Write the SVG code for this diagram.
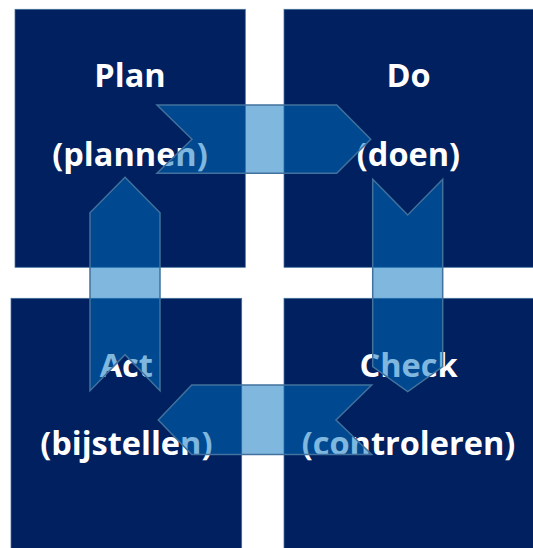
<svg xmlns="http://www.w3.org/2000/svg" width="533" height="548" viewBox="0 0 533 548">
  <style>
    .box { fill: #002060; stroke: #41719C; stroke-width: 0.75; }
    .lbl { font-family: "Open Sans", "DejaVu Sans", sans-serif; font-weight: 700; font-size: 32.5px; fill: #FFFFFF; text-anchor: middle; }
    .arrow { fill: #0070C0; fill-opacity: 0.5; stroke: #41719C; stroke-width: 1.5; stroke-linejoin: miter; }
  </style>
  <rect x="0" y="0" width="533" height="548" fill="#FFFFFF"/>
  <g id="plan">
    <rect class="box" x="15" y="9.3" width="230.3" height="258"/>
    <text class="lbl" x="130" y="86.7">Plan</text>
    <text class="lbl" x="130" y="166">(plannen)</text>
  </g>
  <g id="do">
    <rect class="box" x="284" y="9.3" width="260" height="258"/>
    <text class="lbl" x="408.5" y="86.7">Do</text>
    <text class="lbl" x="408.5" y="166">(doen)</text>
  </g>
  <g id="act">
    <rect class="box" x="11" y="298.3" width="230.7" height="260"/>
    <text class="lbl" x="126.3" y="376.5">Act</text>
    <text class="lbl" x="126.3" y="455">(bijstellen)</text>
  </g>
  <g id="check">
    <rect class="box" x="284" y="298.3" width="260" height="260"/>
    <text class="lbl" x="408.5" y="376.5">Check</text>
    <text class="lbl" x="408.5" y="455">(controleren)</text>
  </g>
  <g id="connectors">
    <polygon class="arrow" points="157,105 336.7,105 370.7,139.3 336.7,173.3 157,173.3 192,139.3"/>
    <polygon class="arrow" points="372.7,179.3 407.7,215 442.7,179.3 442.7,366.7 407.7,391.7 372.7,366.7"/>
    <polygon class="arrow" points="371.7,385 191.7,385 158.3,420 191.7,454.5 371.7,454.5 336,420"/>
    <polygon class="arrow" points="125,177.3 160,212.7 160,390.7 125,354.7 90,390.7 90,212.7"/>
  </g>
</svg>
